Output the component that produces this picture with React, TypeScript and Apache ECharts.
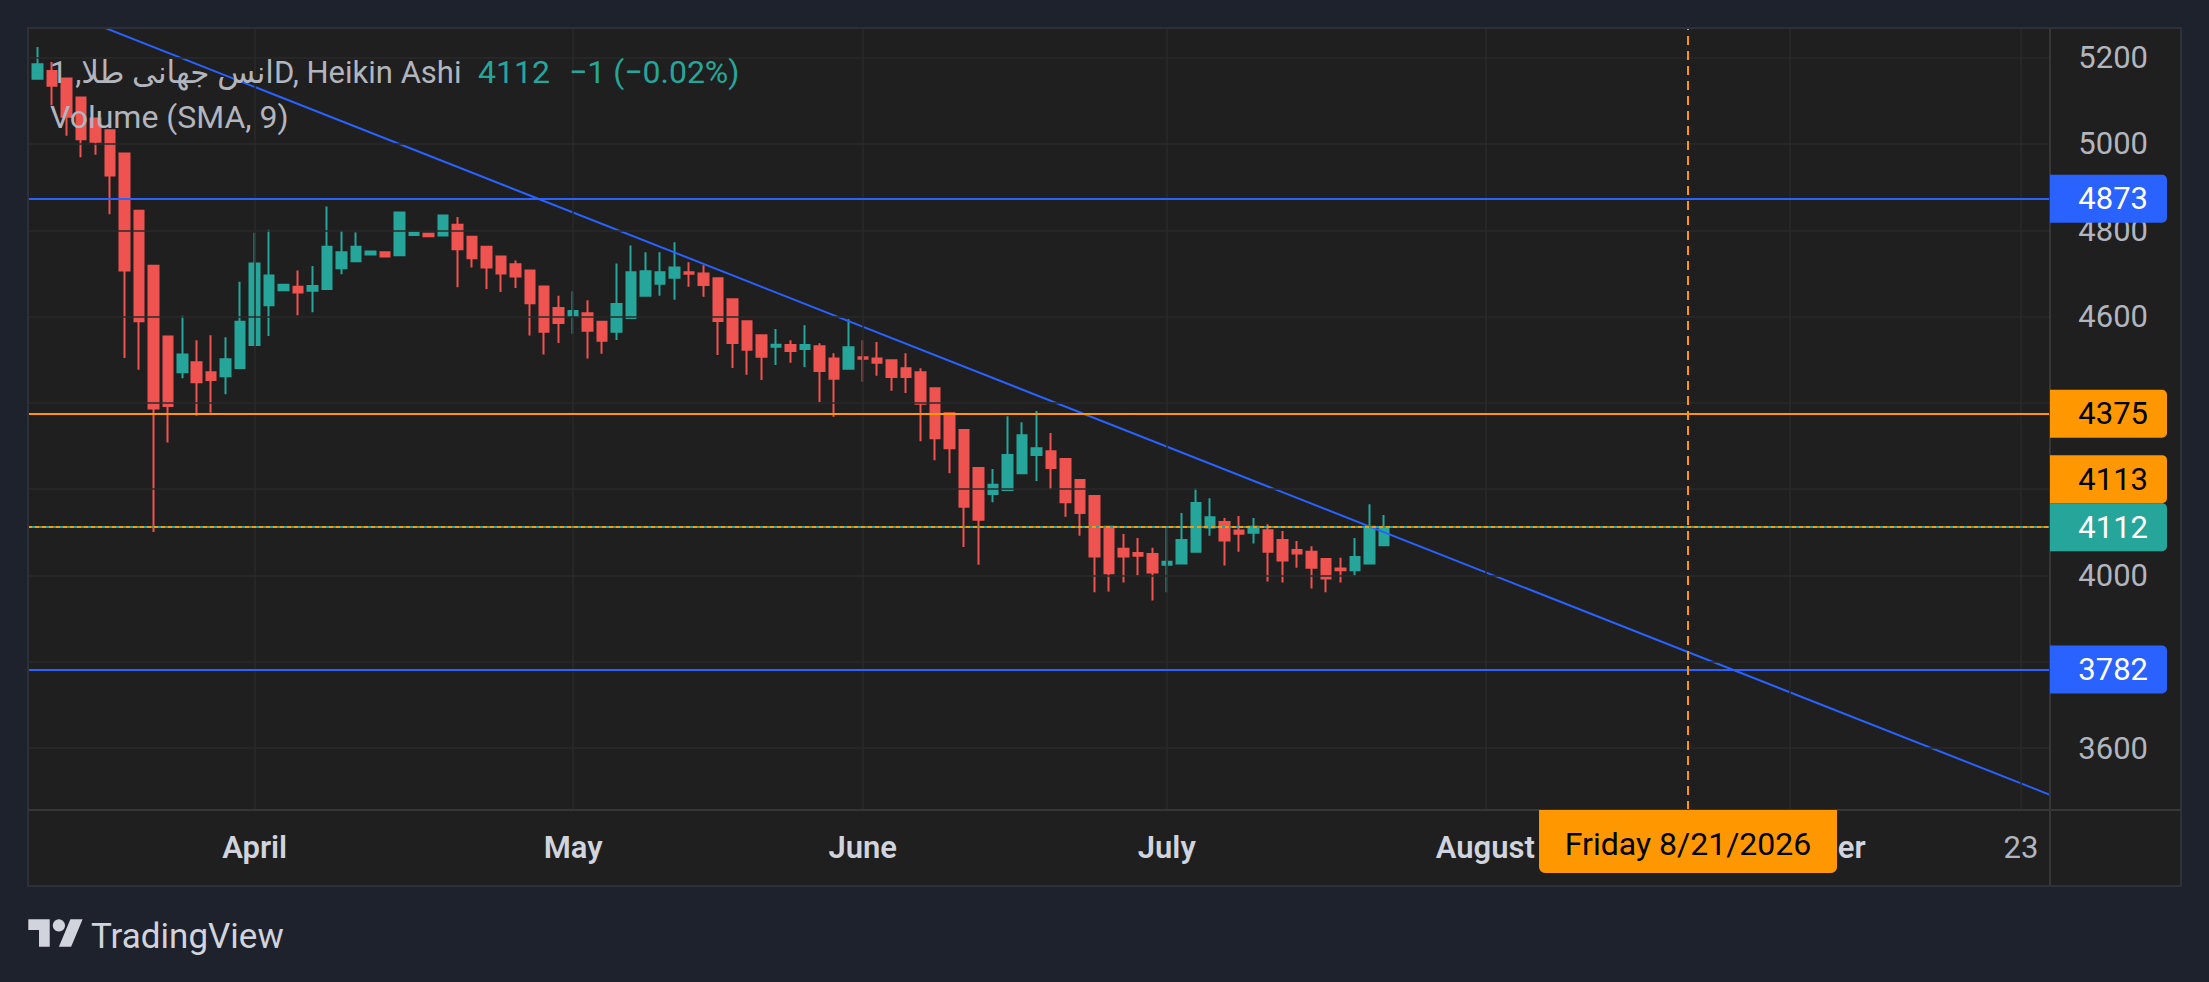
import React, { useEffect, useRef } from "react";
import * as echarts from "echarts";

// ---------- data ----------
const firstDay = "2026-03-10";
const lastDay = "2026-09-25";
const skippedDays = ["2026-05-25", "2026-06-19", "2026-07-03"];

const opens = [
  5141, 5151, 5169, 5152, 5108, 5059, 5032, 4978, 4845, 4718,
  4554, 4471, 4494, 4471, 4462, 4481, 4534, 4626, 4661, 4669,
  4660, 4664, 4712, 4728, 4744, 4749, 4742, 4789, 4792, 4788,
  4813, 4785, 4762, 4739, 4721, 4707, 4670, 4620, 4602, 4608,
  4588, 4565, 4597, 4648, 4676, 4690, 4703, 4700, 4689, 4640,
  4589, 4557, 4530, 4534, 4525, 4531, 4503, 4479, 4506, 4503,
  4499, 4480, 4471, 4434, 4376, 4337, 4249, 4189, 4198, 4237,
  4279, 4288, 4270, 4221, 4184, 4113, 4062, 4052, 4050, 4025,
  4028, 4055, 4111, 4124, 4104, 4099, 4105, 4082, 4059, 4055,
  4038, 4016, 4012, 4028, 4070,
];
const closes = [
  5176, 5185, 5135, 5063, 5011, 5005, 4927, 4707, 4589, 4387,
  4393, 4512, 4448, 4453, 4501, 4588, 4723, 4695, 4674, 4656,
  4671, 4762, 4749, 4762, 4751, 4739, 4841, 4794, 4786, 4834,
  4756, 4735, 4714, 4700, 4693, 4631, 4565, 4585, 4613, 4567,
  4544, 4629, 4703, 4705, 4703, 4714, 4699, 4673, 4590, 4539,
  4523, 4507, 4535, 4520, 4534, 4474, 4456, 4529, 4502, 4493,
  4460, 4460, 4398, 4318, 4295, 4159, 4129, 4210, 4279, 4325,
  4295, 4249, 4170, 4145, 4044, 4005, 4044, 4046, 4007, 4032,
  4082, 4168, 4135, 4081, 4097, 4113, 4055, 4035, 4051, 4018,
  3993, 4012, 4043, 4113, 4112,
];
const lows = [
  5120, 5151, 5090, 5019, 4969, 4975, 4837, 4504, 4477, 4101,
  4308, 4457, 4370, 4377, 4420, 4481, 4534, 4555, 4661, 4603,
  4610, 4664, 4698, 4728, 4744, 4739, 4742, 4788, 4786, 4788,
  4668, 4714, 4664, 4657, 4666, 4556, 4512, 4539, 4560, 4503,
  4514, 4546, 4597, 4648, 4648, 4639, 4669, 4646, 4511, 4481,
  4465, 4453, 4488, 4493, 4483, 4402, 4368, 4479, 4449, 4463,
  4428, 4423, 4311, 4267, 4237, 4066, 4025, 4170, 4198, 4237,
  4219, 4200, 4136, 4092, 3961, 3963, 3984, 4000, 3942, 3961,
  4028, 4055, 4092, 4023, 4055, 4074, 3986, 3984, 4018, 3970,
  3961, 3984, 4000, 4028, 4069,
];
const highs = [
  5185, 5225, 5190, 5152, 5108, 5059, 5032, 4978, 4845, 4718,
  4554, 4602, 4545, 4557, 4552, 4681, 4794, 4801, 4676, 4707,
  4717, 4855, 4799, 4795, 4751, 4749, 4841, 4797, 4792, 4834,
  4831, 4785, 4762, 4739, 4730, 4707, 4670, 4648, 4659, 4638,
  4588, 4723, 4765, 4749, 4749, 4772, 4726, 4719, 4689, 4640,
  4589, 4557, 4571, 4545, 4580, 4538, 4515, 4594, 4545, 4541,
  4499, 4515, 4480, 4434, 4376, 4337, 4249, 4247, 4369, 4355,
  4381, 4330, 4270, 4221, 4184, 4113, 4096, 4087, 4064, 4113,
  4145, 4202, 4179, 4133, 4138, 4133, 4119, 4103, 4080, 4068,
  4038, 4041, 4087, 4165, 4140,
];

const yGridValues = [3600, 3800, 4000, 4200, 4400, 4600, 4800, 5000, 5200];
const yLabelValues = [3600, 4000, 4600, 4800, 5000, 5200];
const xTickDates = ["2026-04-01", "2026-05-01", "2026-06-01", "2026-07-01", "2026-08-03", "2026-09-01", "2026-09-23"];
const xTickLabels = ["April", "May", "June", "July", "August", "September", "23"];
const xTickIsMonth = [true, true, true, true, true, true, false];

const levelValues = [4873, 4375, 3782];
const lastPrice = 4112;
const alertPrice = 4113;
const trendDates = ["2026-03-11", "2026-09-25"];
const trendPrices = [5330.7, 3491.7];
const cursorDate = "2026-08-21";
const cursorLabel = "Friday 8/21/2026";

const titleMain = "انس جهانی طلا, 1D, Heikin Ashi";
const titlePrice = "4112";
const titleChange = "−1 (−0.02%)";
const titleVolume = "Volume (SMA, 9)";

// ---------- styles ----------
const UP = "#26a69a";
const DOWN = "#ef5350";
const BLUE = "#2962ff";
const ORANGE = "#ff9800";
const GRID = "#2a2a2a";
const TEXT = "#b2b5be";
const BRIGHT = "#d1d4dc";
const FONT = "Roboto, 'DejaVu Sans', sans-serif";

const TV_PATH = "M14 22H7V11H0V4h14v18zM28 22h-8l7.5-18h8L28 22z";
echarts.graphic.registerShape("tvlogo", echarts.graphic.extendPath(TV_PATH, {}));

function tradingDays(start: string, end: string, skip: string[]) {
  const out: string[] = [];
  const d = new Date(start + "T00:00:00Z");
  const e = new Date(end + "T00:00:00Z");
  while (d <= e) {
    const wd = d.getUTCDay();
    const s = d.toISOString().slice(0, 10);
    if (wd !== 0 && wd !== 6 && skip.indexOf(s) < 0) out.push(s);
    d.setUTCDate(d.getUTCDate() + 1);
  }
  return out;
}

export default function App() {
  const ref = useRef<HTMLDivElement>(null);

  useEffect(() => {
    const el = ref.current!;
    const chart = echarts.init(el, null, { renderer: "svg" });

    const days = tradingDays(firstDay, lastDay, skippedDays);
    const idxOf = (d: string) => days.indexOf(d);
    const candleData = opens.map((o, i) => [i, o, closes[i], lows[i], highs[i]]);
    const xTickIdx = xTickDates.map(idxOf);
    const cursorIdx = idxOf(cursorDate);
    const trendData = trendDates.map((d, i) => [idxOf(d), trendPrices[i]]);

    const option: any = {
      animation: false,
      backgroundColor: "#1f1f1f",
      textStyle: { fontFamily: FONT },
      grid: { left: 28, top: 28, right: 159, bottom: 172, containLabel: false, outerBoundsMode: "none" },
      xAxis: {
        type: "value",
        min: 0.345,
        max: days.length - 1,
        axisLine: { show: false },
        axisTick: { show: false },
        splitLine: { show: false },
        axisLabel: {
          customValues: xTickIdx,
          margin: 22,
          formatter: (v: number) => {
            const k = xTickIdx.indexOf(Math.round(v));
            if (k < 0) return "";
            return xTickIsMonth[k] ? "{m|" + xTickLabels[k] + "}" : "{d|" + xTickLabels[k] + "}";
          },
          rich: {
            m: { fontSize: 31, fontWeight: 600, color: BRIGHT, fontFamily: FONT },
            d: { fontSize: 31, fontWeight: "normal", color: TEXT, fontFamily: FONT },
          },
        },
      },
      yAxis: {
        type: "value",
        position: "right",
        min: 3456.5,
        max: 5268.8,
        axisLine: { show: false },
        axisTick: { show: false },
        splitLine: { show: false },
        axisLabel: {
          customValues: yLabelValues,
          formatter: (v: number) => String(v),
          align: "right",
          margin: 98,
          fontSize: 31,
          color: TEXT,
          fontFamily: FONT,
        },
      },
      series: [
        {
          type: "line",
          z: 1,
          data: [],
          silent: true,
          markLine: {
            silent: true,
            symbol: ["none", "none"],
            label: { show: false },
            animation: false,
            lineStyle: { color: GRID, width: 1.5, type: "solid" },
            data: [
              ...yGridValues.map((v) => ({ yAxis: v })),
              ...xTickIdx.map((i) => ({ xAxis: i })),
            ],
          },
        },
        {
          type: "candlestick",
          z: 2,
          barWidth: 10,
          dimensions: ["idx", "open", "close", "lowest", "highest"],
          encode: { x: 0, y: [1, 2, 3, 4] },
          data: candleData,
          clip: true,
          itemStyle: {
            color: UP,
            color0: DOWN,
            borderColor: UP,
            borderColor0: DOWN,
            borderWidth: 2,
          },
          emphasis: { disabled: true },
        },
        {
          type: "line",
          z: 3,
          data: [],
          silent: true,
          markLine: {
            silent: true,
            symbol: ["none", "none"],
            label: { show: false },
            animation: false,
            data: [
              { yAxis: levelValues[0], lineStyle: { color: BLUE, width: 2, type: "solid" } },
              { yAxis: levelValues[1], lineStyle: { color: ORANGE, width: 2, type: "solid" } },
              { yAxis: levelValues[2], lineStyle: { color: BLUE, width: 2, type: "solid" } },
              { yAxis: lastPrice, lineStyle: { color: UP, width: 2, type: "solid" } },
              { yAxis: alertPrice, lineStyle: { color: ORANGE, width: 2, type: [4, 3] } },
              { xAxis: cursorIdx, lineStyle: { color: ORANGE, width: 2, type: [9, 6] } },
            ],
          },
        },
        {
          type: "line",
          z: 4,
          data: trendData,
          symbol: "none",
          clip: true,
          silent: true,
          lineStyle: { color: BLUE, width: 2 },
        },
      ],
    };
    chart.setOption(option);

    const px = (i: number) => chart.convertToPixel({ xAxisIndex: 0 }, i) as number;
    const py = (v: number) => chart.convertToPixel({ yAxisIndex: 0 }, v) as number;

    const gridRight = px(days.length - 1);
    const gridBottom = py(3456.5);
    const frameRight = 2181;
    const frameBottom = 886;
    const boxH = 48;
    const boxW = 117;

    const lastY = py(lastPrice);
    const boxes = [
      { v: levelValues[0], yc: py(levelValues[0]), bg: BLUE, fg: "#ffffff" },
      { v: levelValues[1], yc: py(levelValues[1]), bg: ORANGE, fg: "#000000" },
      { v: alertPrice, yc: lastY - boxH, bg: ORANGE, fg: "#000000" },
      { v: lastPrice, yc: lastY, bg: UP, fg: "#ffffff" },
      { v: levelValues[2], yc: py(levelValues[2]), bg: BLUE, fg: "#ffffff" },
    ];

    const elements: any[] = [];
    const NAVY = "#1e222d";
    elements.push(
      { type: "rect", z: 100, shape: { x: 0, y: 0, width: 2209, height: 28 }, style: { fill: NAVY } },
      { type: "rect", z: 100, shape: { x: 0, y: 0, width: 28, height: 982 }, style: { fill: NAVY } },
      { type: "rect", z: 100, shape: { x: frameRight, y: 0, width: 2209 - frameRight, height: 982 }, style: { fill: NAVY } },
      { type: "rect", z: 100, shape: { x: 0, y: frameBottom, width: 2209, height: 982 - frameBottom }, style: { fill: NAVY } },
      { type: "rect", z: 101, shape: { x: 28, y: 28, width: frameRight - 28, height: frameBottom - 28 }, style: { fill: "transparent", stroke: "#2e3039", lineWidth: 2 } },
      { type: "line", z: 101, shape: { x1: gridRight, y1: 28, x2: gridRight, y2: frameBottom }, style: { stroke: "#363636", lineWidth: 2 } },
      { type: "line", z: 101, shape: { x1: 28, y1: gridBottom, x2: frameRight, y2: gridBottom }, style: { stroke: "#363636", lineWidth: 2 } },
    );

    boxes.forEach((b) => {
      elements.push({
        type: "rect",
        z: 102,
        shape: { x: gridRight, y: b.yc - boxH / 2, width: boxW, height: boxH, r: [0, 5, 5, 0] },
        style: { fill: b.bg },
      });
      elements.push({
        type: "text",
        z: 103,
        x: gridRight + 98,
        y: b.yc,
        style: { text: String(b.v), fill: b.fg, font: "31px " + FONT, align: "right", verticalAlign: "middle" },
      });
    });

    const cx = px(cursorIdx);
    elements.push(
      {
        type: "rect",
        z: 102,
        shape: { x: cx - 149, y: gridBottom, width: 298, height: 63, r: [0, 0, 6, 6] },
        style: { fill: ORANGE },
      },
      {
        type: "text",
        z: 103,
        x: cx,
        y: gridBottom + 34,
        style: { text: cursorLabel, fill: "#000000", font: "32px " + FONT, align: "center", verticalAlign: "middle" },
      },
    );

    elements.push(
      { type: "text", z: 103, x: 50, y: 72, style: { text: titleMain, fill: TEXT, font: "31px " + FONT, verticalAlign: "middle" } },
      { type: "text", z: 103, x: 478, y: 72, style: { text: titlePrice, fill: UP, font: "32px " + FONT, verticalAlign: "middle" } },
      { type: "text", z: 103, x: 569, y: 72, style: { text: titleChange, fill: UP, font: "32px " + FONT, verticalAlign: "middle" } },
      { type: "text", z: 103, x: 50, y: 117, style: { text: titleVolume, fill: TEXT, font: "32px " + FONT, verticalAlign: "middle" } },
    );

    const s = 1.53;
    elements.push(
      { type: "tvlogo", z: 103, x: 28.3, y: 913.2, scaleX: s, scaleY: s, style: { fill: BRIGHT } },
      { type: "circle", z: 103, shape: { cx: 28.3 + 20 * s, cy: 913.2 + 8 * s, r: 4 * s }, style: { fill: BRIGHT } },
      { type: "text", z: 103, x: 91, y: 936, style: { text: "TradingView", fill: BRIGHT, font: "35px " + FONT, verticalAlign: "middle" } },
    );

    chart.setOption({ graphic: elements });

    return () => chart.dispose();
  }, []);

  return (
    <div
      ref={ref}
      style={{ position: "fixed", left: 0, top: 0, width: 2209, height: 982 }}
    />
  );
}
